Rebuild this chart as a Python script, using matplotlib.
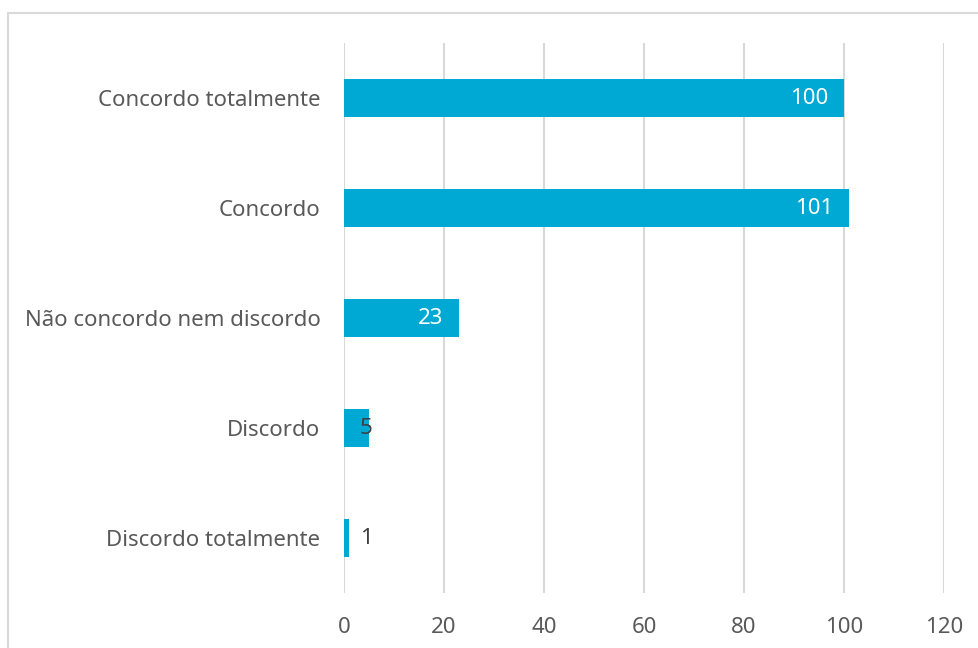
import matplotlib
matplotlib.use("Agg")
import matplotlib.pyplot as plt
from matplotlib.patches import Rectangle

# Survey responses (bottom to top)
categories = ["Discordo totalmente", "Discordo", "Não concordo nem discordo",
              "Concordo", "Concordo totalmente"]
counts = [1, 5, 23, 101, 100]
xticks = [0, 20, 40, 60, 80, 100, 120]

W, H = 979, 648
fig = plt.figure(figsize=(W / 100, H / 100), dpi=100)
plt.rcParams["font.family"] = ["Noto Sans", "DejaVu Sans"]

# light frame around the chart area
fig.patches.append(Rectangle((8 / W, -0.1), 1.2, (H - 13) / H + 0.1,
                             transform=fig.transFigure, fill=False,
                             edgecolor="#d9d9d9", linewidth=1.5))

ax = fig.add_axes([344 / W, (H - 593) / H, 600 / W, 550 / H])
bar_color = "#00a9d4"
ypos = list(range(len(categories)))
ax.barh(ypos, counts, height=0.345, color=bar_color, zorder=3)

ax.set_xlim(0, 120)
ax.set_ylim(-0.5, len(categories) - 0.5)
ax.set_xticks(xticks)
ax.set_xticklabels([str(t) for t in xticks])
ax.set_yticks(ypos)
ax.set_yticklabels(categories)
ax.tick_params(axis="both", length=0, colors="#595959", labelsize=16)
ax.tick_params(axis="y", pad=17)
ax.tick_params(axis="x", pad=17)
ax.grid(axis="x", color="#d9d9d9", linewidth=1.5, zorder=0)
for s in ax.spines.values():
    s.set_visible(False)

# value labels: inside the bar end, or just right of the axis for short bars
px_per_unit = 600 / 120
for y, v in zip(ypos, counts):
    if v * px_per_unit > 60:
        ax.annotate(str(v), xy=(v, y), xytext=(-16, 0), textcoords="offset pixels",
                    ha="right", va="center", color="white", fontsize=16, zorder=4)
    else:
        ax.annotate(str(v), xy=(0, y), xytext=(16, 0), textcoords="offset pixels",
                    ha="left", va="center", color="#404040", fontsize=16, zorder=4)

fig.savefig("out.png", dpi=100)
